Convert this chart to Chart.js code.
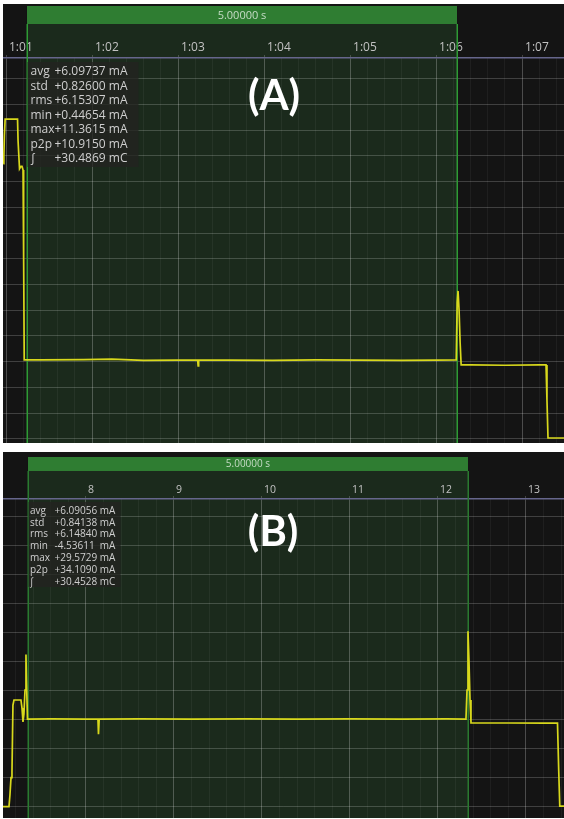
<!DOCTYPE html>
<html><head><meta charset="utf-8">
<script src="https://cdn.jsdelivr.net/npm/chart.js@4.4.0/dist/chart.umd.min.js"></script>
<style>
html,body{margin:0;padding:0;background:#fff;width:564px;height:819px;overflow:hidden}
#wrapA{position:absolute;left:3px;top:4px;width:561px;height:439px}
#wrapB{position:absolute;left:3px;top:452px;width:561px;height:366px}
canvas{display:block}
</style></head><body>
<div id="wrapA"><canvas id="chartA" width="561" height="439"></canvas></div>
<div id="wrapB"><canvas id="chartB" width="561" height="366"></canvas></div>
<script>
// ---------- Panel A (time in seconds, current in mA) ----------
const timeA = [60.968, 60.975, 60.981, 60.990, 61.134, 61.140, 61.157, 61.174, 61.186, 61.198, 61.205, 61.212,
  61.40, 61.90, 62.23, 62.60, 63.00, 63.228, 63.234, 63.240, 63.60, 64.10, 64.60, 65.10, 65.60, 66.00, 66.235,
  66.246, 66.256, 66.268, 66.280, 66.292, 66.40, 66.80, 67.20, 67.279, 67.290, 67.302, 67.49];
const currentA = [21.4, 22.0, 23.6, 24.87, 24.87, 23.2, 21.0, 21.2, 21.2, 20.9, 14.0, 6.13,
  6.13, 6.15, 6.2, 6.1, 6.12, 6.12, 5.67, 6.12, 6.12, 6.1, 6.13, 6.12, 6.1, 6.12, 6.13,
  10.6, 11.5, 10.0, 7.5, 5.74, 5.74, 5.72, 5.74, 5.74, 3.0, 0.06, 0.06];
const tickValuesA = [61, 62, 63, 64, 65, 66, 67];
const tickLabelsA = ['1:01', '1:02', '1:03', '1:04', '1:05', '1:06', '1:07'];
const selectionA = [61.244, 66.244];
const statValuesA = ['+6.09737 mA', '+0.82600 mA', '+6.15307 mA', '+0.44654 mA', '+11.3615 mA', '+10.9150 mA', '+30.4869 mC'];

// ---------- Panel B ----------
const timeB = [7.057, 7.125, 7.136, 7.148, 7.159, 7.170, 7.182, 7.261, 7.273, 7.284, 7.295, 7.307, 7.318, 7.324, 7.335,
  7.60, 8.00, 8.136, 8.142, 8.150, 8.60, 9.20, 9.80, 10.40, 11.00, 11.60, 12.10, 12.318,
  12.330, 12.341, 12.352, 12.364, 12.375, 12.80, 13.20, 13.358, 13.372, 13.384, 13.432];
const currentB = [0.0, 0.0, 0.8, 2.0, 2.4, 7.0, 7.36, 7.36, 6.8, 5.84, 6.4, 8.05, 10.5, 8.7, 6.04,
  6.05, 6.04, 6.04, 5.0, 6.04, 6.06, 6.04, 6.05, 6.04, 6.06, 6.04, 6.05, 6.04,
  8.05, 12.1, 10.1, 7.36, 5.77, 5.77, 5.76, 5.77, 2.5, 0.03, 0.03];
const tickValuesB = [8, 9, 10, 11, 12, 13];
const tickLabelsB = ['8', '9', '10', '11', '12', '13'];
const selectionB = [7.341, 12.341];
const statValuesB = ['+6.09056 mA', '+0.84138 mA', '+6.14840 mA', '-4.53611  mA', '+29.5729 mA', '+34.1090 mA', '+30.4528 mC'];

const statNames = ['avg', 'std', 'rms', 'min', 'max', 'p2p', '\u222B'];
const selectionLabel = '5.00000 s';

function overlayPlugin(o) {
  return {
    id: 'overlay',
    beforeDraw(chart) {
      const {ctx, chartArea: ca} = chart;
      const x = chart.scales.x;
      ctx.save();
      ctx.fillStyle = '#141414';
      ctx.fillRect(0, 0, chart.width, chart.height);
      const x0 = x.getPixelForValue(o.sel[0]), x1 = x.getPixelForValue(o.sel[1]);
      ctx.fillStyle = '#1b2a1c';
      ctx.fillRect(x0, o.barTop, x1 - x0, ca.bottom - o.barTop);
      ctx.fillStyle = '#2f7d32';
      ctx.fillRect(x0, o.barTop, x1 - x0, o.barH);
      ctx.fillStyle = '#c6dcc6';
      ctx.font = o.barFont;
      ctx.textAlign = 'center';
      ctx.textBaseline = 'middle';
      ctx.fillText(selectionLabel, (x0 + x1) / 2, o.barTop + o.barH / 2 + 0.5);
      ctx.restore();
    },
    beforeDatasetsDraw(chart) {
      const {ctx, chartArea: ca} = chart;
      const x = chart.scales.x;
      ctx.save();
      ctx.strokeStyle = o.edgeColor;
      ctx.lineWidth = 1.5;
      for (const v of o.sel) {
        const px = Math.round(x.getPixelForValue(v)) + 0.25;
        ctx.beginPath();
        ctx.moveTo(px, o.barTop + o.barH);
        ctx.lineTo(px, ca.bottom);
        ctx.stroke();
      }
      ctx.restore();
    },
    afterDatasetsDraw(chart) {
      const {ctx, chartArea: ca} = chart;
      const x = chart.scales.x, y = chart.scales.y;
      ctx.save();
      const bl = x.getPixelForValue(o.sel[0]) + 0.5, bt = ca.top + o.boxDy;
      ctx.fillStyle = 'rgba(34,34,32,0.78)';
      ctx.fillRect(bl, bt, o.boxW, o.boxH);
      ctx.fillStyle = '#cfcfcf';
      ctx.font = o.statFont;
      ctx.textBaseline = 'middle';
      ctx.textAlign = 'left';
      statNames.forEach((n, i) => {
        const yy = bt + o.line0 + o.lineH * i;
        ctx.fillText(n, bl + o.labelDx, yy);
        ctx.fillText(o.stats[i], bl + o.valueDx, yy);
      });
      ctx.fillStyle = '#ffffff';
      ctx.font = 'bold 42px Lato, "Open Sans", sans-serif';
      ctx.textAlign = 'center';
      ctx.textBaseline = 'middle';
      ctx.fillText(o.title, x.getPixelForValue(o.titlePos[0]), y.getPixelForValue(o.titlePos[1]));
      ctx.restore();
    }
  };
}

function makeChart(id, times, values, xr, yr, tickVals, tickLbls, o) {
  return new Chart(document.getElementById(id), {
    type: 'line',
    data: {
      datasets: [{
        data: times.map((t, i) => ({x: t, y: values[i]})),
        xAxisID: 'x', yAxisID: 'y',
        borderColor: '#d8d81c', borderWidth: 1.7,
        pointRadius: 0, tension: 0, fill: false
      }]
    },
    options: {
      responsive: false, animation: false, devicePixelRatio: 1,
      layout: {padding: 0},
      plugins: {legend: {display: false}, tooltip: {enabled: false}},
      scales: {
        x: {
          type: 'linear', position: 'top', min: xr[0], max: xr[1],
          afterFit: s => { s.height = o.axisH; },
          afterBuildTicks: s => { s.ticks = tickVals.map(v => ({value: v})); },
          ticks: {
            callback: v => { const k = tickVals.indexOf(v); return k >= 0 ? tickLbls[k] : ''; },
            align: 'start', padding: 0, labelOffset: o.labelOffset, maxRotation: 0, autoSkip: false,
            color: '#c2c2c2', font: {family: '"Open Sans", sans-serif', size: o.tickSize}
          },
          grid: {color: 'rgba(255,255,255,0.2)', lineWidth: 1, drawTicks: true, tickLength: 3},
          border: {display: true, color: '#66668c', width: 1.5}
        },
        xm: {
          type: 'linear', position: 'bottom', min: xr[0], max: xr[1],
          afterFit: s => { s.height = 0; },
          ticks: {display: false, stepSize: 0.2, maxTicksLimit: 1000, includeBounds: false, autoSkip: false},
          grid: {color: 'rgba(255,255,255,0.05)', drawTicks: false},
          border: {display: false}
        },
        y: {
          type: 'linear', min: yr[0], max: yr[1],
          afterFit: s => { s.width = 0; },
          ticks: {display: false, stepSize: 2, includeBounds: false},
          grid: {color: 'rgba(255,255,255,0.19)', drawTicks: false},
          border: {display: false}
        }
      }
    },
    plugins: [overlayPlugin(o)]
  });
}

makeChart('chartA', timeA, currentA, [60.965, 67.488], [-0.33, 29.62], tickValuesA, tickLabelsA, {
  sel: selectionA, barTop: 2, barH: 18, barFont: '11px "Open Sans", sans-serif',
  axisH: 54, tickSize: 12, labelOffset: 3, edgeColor: '#2f9a35',
  boxDy: 4, boxW: 111, boxH: 105, statFont: '12px "Open Sans", sans-serif',
  line0: 10, lineH: 14.5, labelDx: 3, valueDx: 27, stats: statValuesA,
  title: '(A)', titlePos: [64.116, 26.6]
});

makeChart('chartB', timeB, currentB, [7.057, 13.432], [-0.79, 21.24], tickValuesB, tickLabelsB, {
  sel: selectionB, barTop: 5, barH: 14, barFont: '10px "Open Sans", sans-serif',
  axisH: 47, tickSize: 10.5, labelOffset: 2, edgeColor: '#2a7a30',
  boxDy: 3, boxW: 92, boxH: 85, statFont: '10px "Open Sans", sans-serif',
  line0: 9, lineH: 11.8, labelDx: 1.5, valueDx: 26, stats: statValuesB,
  title: '(B)', titlePos: [10.125, 18.95]
});
</script>
</body></html>
